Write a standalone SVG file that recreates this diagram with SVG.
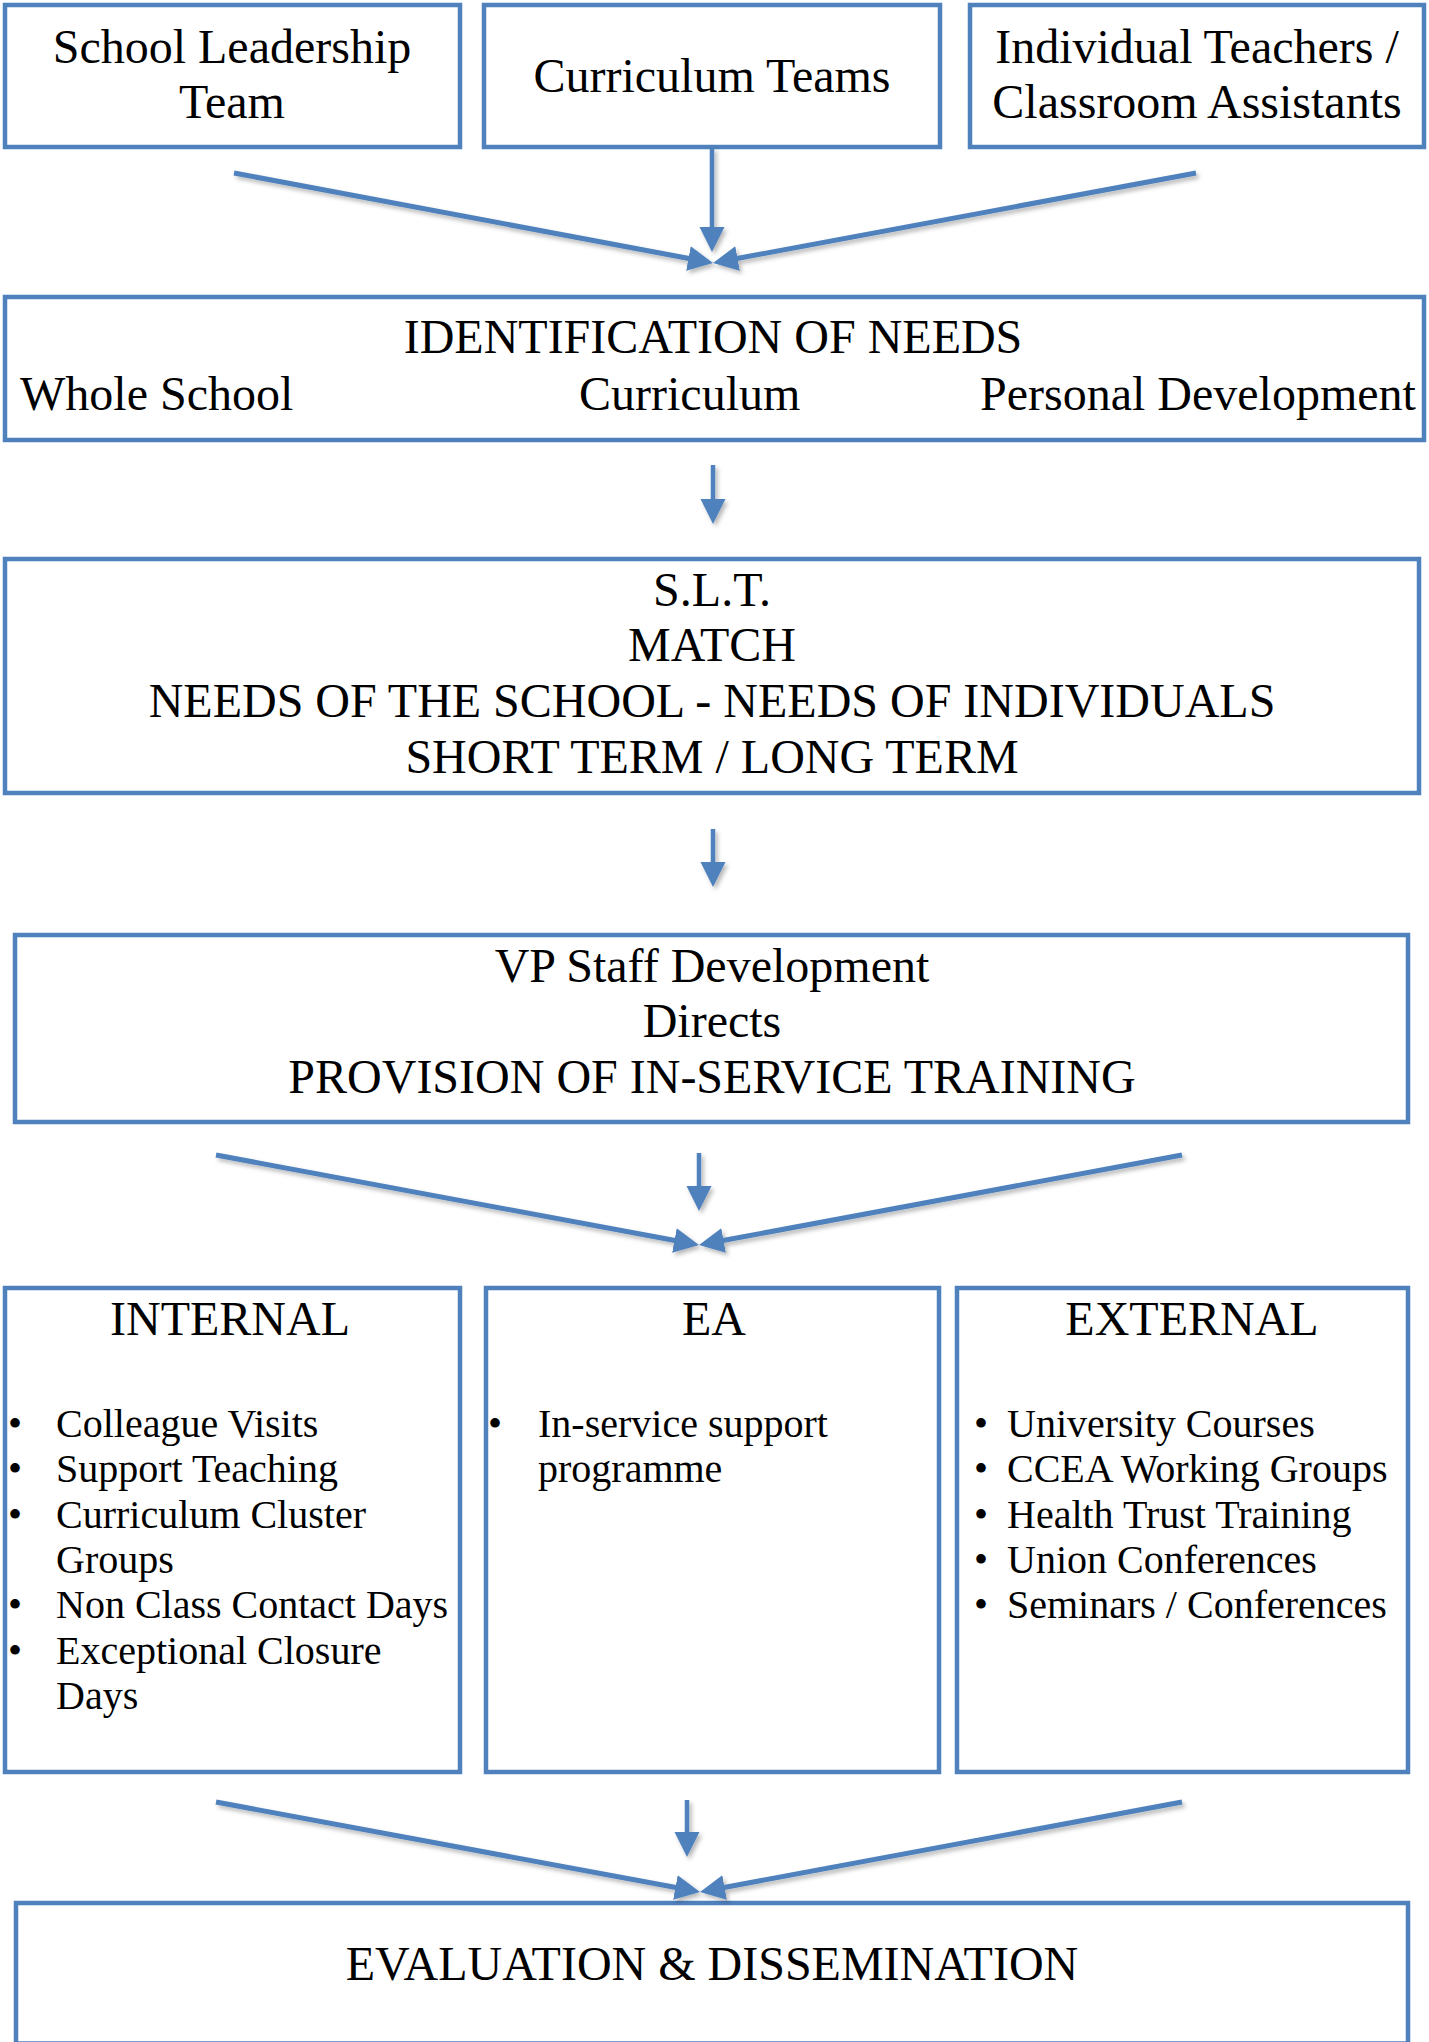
<svg xmlns="http://www.w3.org/2000/svg" width="1429" height="2042" viewBox="0 0 1429 2042">
<style>
  .box{fill:#fff;stroke:#4F81BD;stroke-width:4.5}
  .t{font-family:"Liberation Serif","Times New Roman",serif;font-size:48px;fill:#000}
  .c{text-anchor:middle}
  .li{font-family:"Liberation Serif","Times New Roman",serif;font-size:40px;fill:#000}
  .ln{stroke:#4F81BD;stroke-width:5;fill:none;marker-end:url(#ah)}
  .lv{stroke:#4F81BD;stroke-width:4.5;fill:none;marker-end:url(#ah)}
</style>
<defs>
  <marker id="ah" markerUnits="userSpaceOnUse" markerWidth="26" markerHeight="26" refX="2" refY="12.5" orient="auto">
    <path d="M0,0 L25,12.5 L0,25 Z" fill="#4F81BD"/>
  </marker>
  <filter id="sh" x="-10%" y="-10%" width="120%" height="130%">
    <feDropShadow dx="2.5" dy="3" stdDeviation="2" flood-color="#000" flood-opacity="0.28"/>
  </filter>
</defs>
<rect width="1429" height="2042" fill="#fff"/>

<g id="slt-team">
  <rect class="box" x="5" y="5" width="455" height="142"/>
  <text class="t c" x="232" y="63">School Leadership</text>
  <text class="t c" x="232" y="118">Team</text>
</g>
<g id="curriculum-teams">
  <rect class="box" x="484" y="5" width="456" height="142"/>
  <text class="t c" x="712" y="92">Curriculum Teams</text>
</g>
<g id="individual-teachers">
  <rect class="box" x="970" y="5" width="454" height="142"/>
  <text class="t c" x="1197" y="63">Individual Teachers /</text>
  <text class="t c" x="1197" y="118">Classroom Assistants</text>
</g>

<g id="identification">
  <rect class="box" x="5" y="297" width="1419" height="143"/>
  <text class="t c" x="713" y="353">IDENTIFICATION OF NEEDS</text>
  <text class="t" x="20" y="410">Whole School</text>
  <text class="t" x="579" y="410">Curriculum</text>
  <text class="t" x="980" y="410">Personal Development</text>
</g>

<g id="slt-match">
  <rect class="box" x="5" y="559" width="1414" height="234"/>
  <text class="t c" x="712" y="606">S.L.T.</text>
  <text class="t c" x="712" y="661">MATCH</text>
  <text class="t c" x="712" y="717">NEEDS OF THE SCHOOL - NEEDS OF INDIVIDUALS</text>
  <text class="t c" x="712" y="773">SHORT TERM / LONG TERM</text>
</g>

<g id="vp-staff">
  <rect class="box" x="15" y="935" width="1393" height="187"/>
  <text class="t c" x="712" y="982">VP Staff Development</text>
  <text class="t c" x="712" y="1037">Directs</text>
  <text class="t c" x="712" y="1093">PROVISION OF IN-SERVICE TRAINING</text>
</g>

<g id="internal">
  <rect class="box" x="5" y="1288" width="455" height="484"/>
  <text class="t c" x="230" y="1335">INTERNAL</text>
  <g class="li">
    <text x="8" y="1437">•</text><text x="56" y="1437">Colleague Visits</text>
    <text x="8" y="1482">•</text><text x="56" y="1482">Support Teaching</text>
    <text x="8" y="1528">•</text><text x="56" y="1528">Curriculum Cluster</text>
    <text x="56" y="1573">Groups</text>
    <text x="8" y="1618">•</text><text x="56" y="1618">Non Class Contact Days</text>
    <text x="8" y="1664">•</text><text x="56" y="1664">Exceptional Closure</text>
    <text x="56" y="1709">Days</text>
  </g>
</g>

<g id="ea">
  <rect class="box" x="486" y="1288" width="453" height="484"/>
  <text class="t c" x="714" y="1335">EA</text>
  <g class="li">
    <text x="488" y="1437">•</text><text x="538" y="1437">In-service support</text>
    <text x="538" y="1482">programme</text>
  </g>
</g>

<g id="external">
  <rect class="box" x="957" y="1288" width="451" height="484"/>
  <text class="t c" x="1192" y="1335">EXTERNAL</text>
  <g class="li">
    <text x="974" y="1437">•</text><text x="1007" y="1437">University Courses</text>
    <text x="974" y="1482">•</text><text x="1007" y="1482">CCEA Working Groups</text>
    <text x="974" y="1528">•</text><text x="1007" y="1528">Health Trust Training</text>
    <text x="974" y="1573">•</text><text x="1007" y="1573">Union Conferences</text>
    <text x="974" y="1618">•</text><text x="1007" y="1618">Seminars / Conferences</text>
  </g>
</g>

<g id="evaluation">
  <rect class="box" x="16" y="1903" width="1392" height="140.5"/>
  <text class="t c" x="712" y="1980">EVALUATION &amp; DISSEMINATION</text>
</g>

<g id="connectors" filter="url(#sh)">
  <line class="ln" x1="234" y1="173" x2="690.4" y2="258.8"/>
  <line class="ln" x1="1196" y1="173" x2="735.6" y2="258.8"/>
  <line class="lv" x1="712" y1="148" x2="712" y2="229"/>

  <line class="lv" x1="713" y1="465" x2="713" y2="501"/>
  <line class="lv" x1="713" y1="829" x2="713" y2="864"/>

  <line class="ln" x1="216" y1="1155" x2="676.4" y2="1240.8"/>
  <line class="ln" x1="1182" y1="1155" x2="721.6" y2="1240.8"/>
  <line class="lv" x1="699" y1="1153" x2="699" y2="1188"/>

  <line class="ln" x1="216" y1="1802" x2="677.4" y2="1887.8"/>
  <line class="ln" x1="1182" y1="1802" x2="722.6" y2="1887.8"/>
  <line class="lv" x1="687" y1="1800" x2="687" y2="1834"/>
</g>
</svg>
